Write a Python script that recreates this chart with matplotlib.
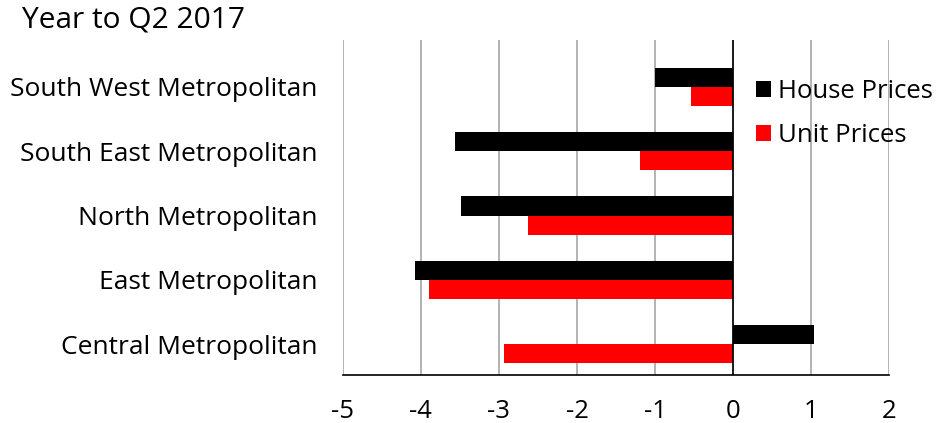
import numpy as np
import matplotlib.pyplot as plt

plt.rcParams['font.family'] = ['Open Sans', 'DejaVu Sans']

# Изменение цен по районам, %
regions = ["South West Metropolitan", "South East Metropolitan", "North Metropolitan",
           "East Metropolitan", "Central Metropolitan"]
house_prices = [-1.0, -3.56, -3.48, -4.08, 1.03]
unit_prices = [-0.54, -1.19, -2.63, -3.89, -2.93]
x_ticks = [-5, -4, -3, -2, -1, 0, 1, 2]


def show_plot():
    fig = plt.figure(figsize=(9.47, 4.23), dpi=100)
    ax = fig.add_axes([0.362, 0.1135, 0.577, 0.792])

    y = np.arange(len(regions))[::-1]
    h = 0.296
    ax.barh(y + h / 2, house_prices, height=h, color='black', label='House Prices', zorder=3)
    ax.barh(y - h / 2, unit_prices, height=h, color='#ff0000', label='Unit Prices', zorder=3)

    ax.set_xlim(-5, 2)
    ax.set_ylim(-0.48, 4.73)
    ax.set_xticks(x_ticks)
    ax.set_xticklabels([str(t) for t in x_ticks], fontsize=18.5)
    ax.set_yticks(y)
    ax.set_yticklabels(regions, fontsize=19)
    ax.tick_params(axis='both', length=0)
    ax.tick_params(axis='x', pad=17)
    ax.tick_params(axis='y', pad=18)

    # сетка и оси
    ax.grid(axis='x', color='#a6a6a6', linewidth=1.2, zorder=0)
    ax.axvline(0, color='black', linewidth=1.2, zorder=4)
    for s in ['left', 'right', 'top']:
        ax.spines[s].set_visible(False)
    ax.spines['bottom'].set_color('black')
    ax.spines['bottom'].set_linewidth(1.2)

    ax.legend(loc='upper left', bbox_to_anchor=(0.737, 0.915), frameon=False, fontsize=18.5,
              handlelength=0.6, handleheight=0.6, handletextpad=0.25, labelspacing=0.75,
              borderaxespad=0)

    fig.text(0.023, 0.952, 'Year to Q2 2017', fontsize=21.5, va='center', ha='left')
    fig.savefig('out.png', dpi=100)


if __name__ == "__main__":
    show_plot()
